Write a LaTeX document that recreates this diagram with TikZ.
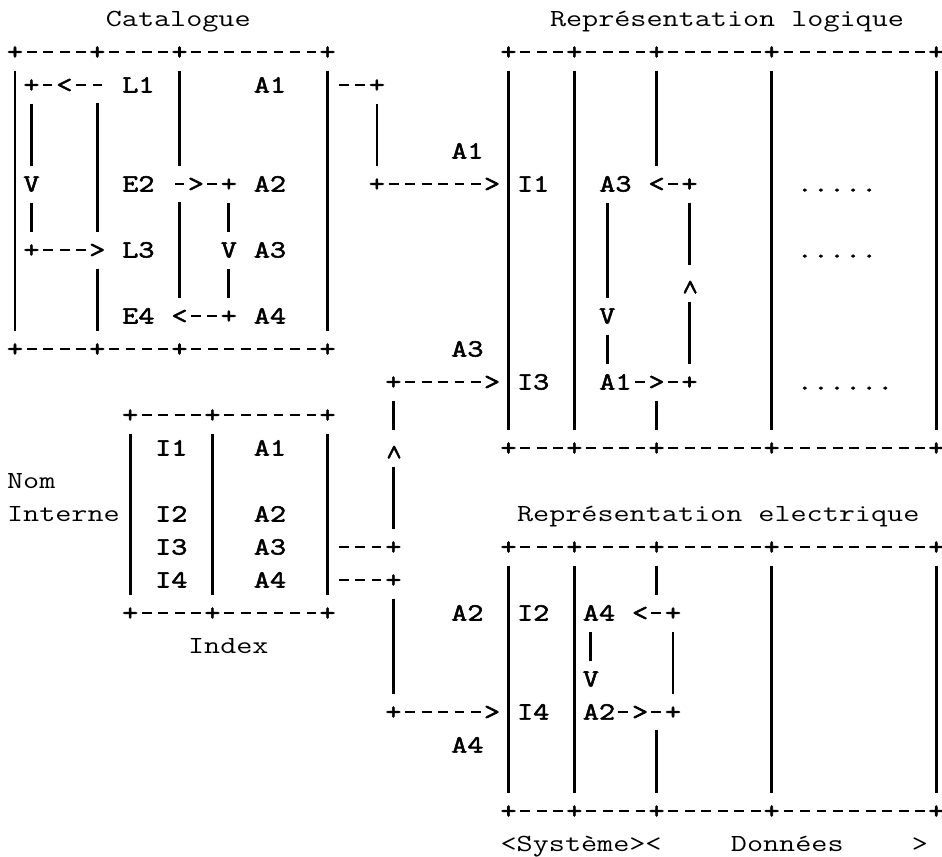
\documentclass[tikz,border=0pt]{standalone}
\usepackage{fontspec}
\newfontfamily\cour[FakeStretch=1.27]{Latin Modern Mono}
\newfontfamily\courb[FakeStretch=1.27,FakeBold=2.2]{Latin Modern Mono}
\newcommand{\tyf}{\cour\fontsize{14pt}{17pt}\selectfont}
\newcommand{\tyb}{\courb\fontsize{14pt}{17pt}\selectfont}
\newcommand{\upch}{\raisebox{-2pt}{\rotatebox[origin=c]{-90}{<}}}

\begin{document}
\begin{tikzpicture}[
        x=0.329cm, y=-0.66cm,
        every node/.style={inner sep=0pt, font=\tyf, text height=8.5pt, text depth=0pt},
        ttl/.style={anchor=west},
        lbl/.style={anchor=west, font=\tyb, minimum height=0.726cm},
        sym/.style={font=\tyb, minimum width=0.197cm, minimum height=0.726cm, node contents=\makebox[0pt]{#1}},
        bar/.style={line width=1.6pt},
        rule/.style={line width=1.2pt, dash pattern=on 0.197cm off 0.132cm, dash phase=0.197cm}
    ]
        \useasboundingbox (-0.912,-0.576) rectangle (56.35,25.39);

        % Catalogue
        \node[ttl] (tCat) at (5.5,0) {Catalogue};
        \foreach \c in {0,5,10,19} {
            \node (ct\c) at (\c,1) [sym=+];
            \node (cb\c) at (\c,10) [sym=+];
        }
        \foreach \a/\b in {0/5,5/10,10/19} {
            \draw[rule] (ct\a) -- (ct\b);
            \draw[rule] (cb\a) -- (cb\b);
        }
        \draw[bar] (ct0) -- (cb0);
        \draw[bar] (ct19) -- (cb19);
        \node[lbl] (catL1) at (6.5,2) {L1};
        \node[lbl] (catE2) at (6.5,5) {E2};
        \node[lbl] (catL3) at (6.5,7) {L3};
        \node[lbl] (catE4) at (6.5,9) {E4};
        \node[lbl] (catA1) at (14.5,2) {A1};
        \node[lbl] (catA2) at (14.5,5) {A2};
        \node[lbl] (catA3) at (14.5,7) {A3};
        \node[lbl] (catA4) at (14.5,9) {A4};

        % L1 -> L3
        \coordinate (loopAin) at (5.3,2);
        \node (loopA) at (1,2) [sym=+];
        \node (loopAarr) at (3,2) [sym=<];
        \node (loopAv) at (1,5) [sym=V];
        \node (loopB) at (1,7) [sym=+];
        \node (loopBarr) at (5,7) [sym=>];
        \draw[rule] (loopAarr) -- (loopAin);
        \draw[rule] (loopAarr) -- (loopA);
        \draw[bar] (loopA) -- (loopAv);
        \draw[bar] (loopAv) -- (loopB);
        \draw[rule] (loopB) -- (loopBarr);
        \draw[bar] (5,2.55) -- (loopBarr);
        \draw[bar] (loopBarr) -- (cb5);

        % E2 -> E4
        \coordinate (eIn) at (9.7,5);
        \node (eArrA) at (11,5) [sym=>];
        \node (eA) at (13,5) [sym=+];
        \node (eV) at (13,7) [sym=V];
        \node (eB) at (13,9) [sym=+];
        \node (eArrB) at (10,9) [sym=<];
        \draw[rule] (eArrA) -- (eIn);
        \draw[rule] (eA) -- (eArrA);
        \draw[bar] (eA) -- (eV);
        \draw[bar] (eV) -- (eB);
        \draw[rule] (eB) -- (eArrB);
        \draw[bar] (ct10) -- (10,4.45);
        \draw[bar] (10,5.55) -- (eArrB);

        % Index
        \foreach \c in {7,12,19} {
            \node (it\c) at (\c,12) [sym=+];
            \node (ib\c) at (\c,18) [sym=+];
            \draw[bar] (it\c) -- (ib\c);
        }
        \foreach \a/\b in {7/12,12/19} {
            \draw[rule] (it\a) -- (it\b);
            \draw[rule] (ib\a) -- (ib\b);
        }
        \node[ttl] (tNom) at (-0.5,14) {Nom};
        \node[ttl] (tInt) at (-0.5,15) {Interne};
        \node[ttl] (tIdx) at (10.5,19) {Index};
        \node[lbl] (idxI1) at (8.5,13) {I1};
        \node[lbl] (idxI2) at (8.5,15) {I2};
        \node[lbl] (idxI3) at (8.5,16) {I3};
        \node[lbl] (idxI4) at (8.5,17) {I4};
        \node[lbl] (idxA1) at (14.5,13) {A1};
        \node[lbl] (idxA2) at (14.5,15) {A2};
        \node[lbl] (idxA3) at (14.5,16) {A3};
        \node[lbl] (idxA4) at (14.5,17) {A4};

        % Representation logique
        \node[ttl] (tLog) at (32.5,0) {Représentation logique};
        \foreach \c in {30,34,39,46,56} {
            \node (lt\c) at (\c,1) [sym=+];
            \node (lb\c) at (\c,13) [sym=+];
        }
        \foreach \a/\b in {30/34,34/39,39/46,46/56} {
            \draw[rule] (lt\a) -- (lt\b);
            \draw[rule] (lb\a) -- (lb\b);
        }
        \foreach \c in {30,34,46,56}
            \draw[bar] (lt\c) -- (lb\c);
        \node[lbl] (logI1) at (30.5,5) {I1};
        \node[lbl] (logI3) at (30.5,11) {I3};
        \node[lbl] (logA3) at (35.5,5) {A3};
        \node[lbl] (logA1) at (35.5,11) {A1};
        \node[lbl] (logDotsA) at (47.5,5) {.....};
        \node[lbl] (logDotsB) at (47.5,7) {.....};
        \node[lbl] (logDotsC) at (47.5,11) {......};

        % A1 -> A3
        \node (qA) at (41,5) [sym=+];
        \node (qArrA) at (39,5) [sym=<];
        \node (qUp) at (41,8) [sym=\upch];
        \node (qB) at (41,11) [sym=+];
        \node (qArrB) at (39,11) [sym=>];
        \node (qV) at (36,9) [sym=V];
        \draw[rule] (qA) -- (qArrA);
        \draw[bar] (qA) -- (qUp);
        \draw[bar] (qUp) -- (qB);
        \draw[rule] (qB) -- (qArrB);
        \draw[rule] (qArrB) -- (logA1);
        \draw[bar] (qV) -- (qV |- logA3.south);
        \draw[bar] (qV) -- (qV |- logA1.north);
        \draw[bar] (lt39) -- (qArrA);
        \draw[bar] (qArrB) -- (lb39);

        % Representation electrique
        \node[ttl] (tEle) at (30.5,15) {Représentation electrique};
        \foreach \c in {30,34,39,46,56} {
            \node (et\c) at (\c,16) [sym=+];
            \node (eb\c) at (\c,24) [sym=+];
        }
        \foreach \a/\b in {30/34,34/39,39/46,46/56} {
            \draw[rule] (et\a) -- (et\b);
            \draw[rule] (eb\a) -- (eb\b);
        }
        \foreach \c in {30,34,46,56}
            \draw[bar] (et\c) -- (eb\c);
        \draw[bar] (et39) -- (39,17.45);
        \draw[bar] (39,21.55) -- (eb39);
        \node[lbl] (eleI2) at (30.5,18) {I2};
        \node[lbl] (eleI4) at (30.5,21) {I4};
        \node[lbl] (eleA4) at (34.5,18) {A4};
        \node[lbl] (eleA2) at (34.5,21) {A2};
        \node[ttl] (tSys) at (29.5,25) {<Système><};
        \node[ttl] (tDon) at (43.5,25) {Données};
        \node[ttl] (tEnd) at (54.5,25) {>};

        % A2 -> A4
        \node (sA) at (40,18) [sym=+];
        \node (sArrA) at (38,18) [sym=<];
        \node (sB) at (40,21) [sym=+];
        \node (sArrB) at (38,21) [sym=>];
        \node (sV) at (35,20) [sym=V];
        \draw[rule] (sA) -- (sArrA);
        \draw[bar] (sA) -- (sB);
        \draw[rule] (sB) -- (sArrB);
        \draw[rule] (sArrB) -- (eleA2);
        \draw[bar] (sV) -- (sV |- eleA4.south);

        % Catalogue -> logique
        \coordinate (kIn) at (19.7,2);
        \node (kA) at (22,2) [sym=+];
        \node (kB) at (22,5) [sym=+];
        \node (kArr) at (29,5) [sym=>];
        \draw[rule] (kA) -- (kIn);
        \draw[bar] (kA) -- (kB);
        \draw[rule] (kB) -- (kArr);
        \node[lbl] (kLbl) at (26.5,4) {A1};

        % Index -> logique
        \coordinate (mIn) at (19.7,16);
        \node (mA) at (23,16) [sym=+];
        \node (mUp) at (23,13) [sym=\upch];
        \node (mB) at (23,11) [sym=+];
        \node (mArr) at (29,11) [sym=>];
        \draw[rule] (mA) -- (mIn);
        \draw[bar] (mA) -- (mUp);
        \draw[bar] (mUp) -- (mB);
        \draw[rule] (mB) -- (mArr);
        \node[lbl] (mLbl) at (26.5,10) {A3};

        % Index -> electrique
        \coordinate (nIn) at (19.7,17);
        \node (nA) at (23,17) [sym=+];
        \node (nB) at (23,21) [sym=+];
        \node (nArr) at (29,21) [sym=>];
        \draw[rule] (nA) -- (nIn);
        \draw[bar] (nA) -- (nB);
        \draw[rule] (nB) -- (nArr);
        \node[lbl] (nLblA) at (26.5,18) {A2};
        \node[lbl] (nLblB) at (26.5,22) {A4};
    \end{tikzpicture}
\end{document}
